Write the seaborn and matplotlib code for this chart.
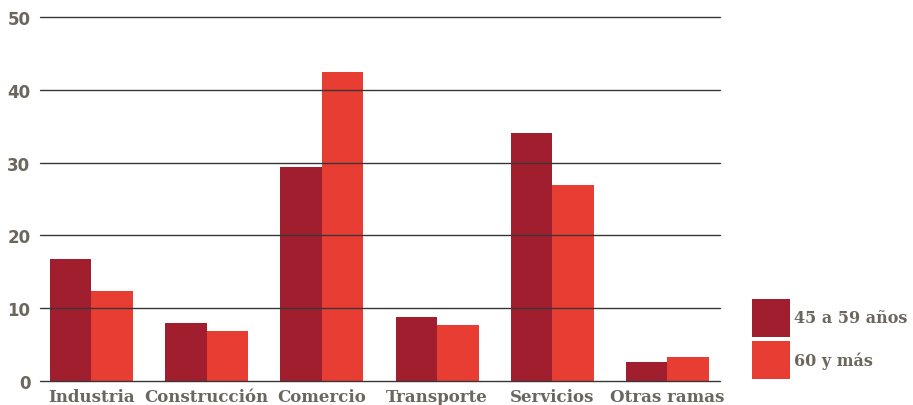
import matplotlib
matplotlib.use('Agg')
import matplotlib.pyplot as plt
import seaborn as sns
import pandas as pd

# data
categorias = ["Industria", "Construcción", "Comercio", "Transporte", "Servicios", "Otras ramas"]
edad_45_59 = [16.8, 8.0, 29.4, 8.8, 34.1, 2.6]
edad_60_mas = [12.4, 6.9, 42.4, 7.7, 26.9, 3.3]
series = ["45 a 59 años", "60 y más"]
yticks = [0, 10, 20, 30, 40, 50]

df = pd.DataFrame({
    "rama": categorias * 2,
    "grupo": [series[0]] * len(categorias) + [series[1]] * len(categorias),
    "valor": edad_45_59 + edad_60_mas,
})

text_color = "#6b675e"
colores = {series[0]: "#a01e2d", series[1]: "#e83d33"}

sns.set_style("white")
fig = plt.figure(figsize=(9.13, 4.06), dpi=100)
ax = fig.add_axes([40 / 913, 1 - 382 / 406, 680 / 913, 364 / 406])

sns.barplot(data=df, x="rama", y="valor", hue="grupo", palette=colores,
            width=0.72, saturation=1, linewidth=0, ax=ax, zorder=1)

# gridlines drawn over the bars
for t in yticks:
    ax.axhline(t, color="#3a3636", lw=1.0, zorder=3, clip_on=False)

ax.set_xlim(-0.447, 5.456)
ax.set_ylim(0, 50)
ax.set_yticks(yticks)
ax.set_xlabel("")
ax.set_ylabel("")
for s in ax.spines.values():
    s.set_visible(False)
ax.tick_params(axis="both", length=0, colors=text_color)
ax.tick_params(axis="y", pad=7)
ax.tick_params(axis="x", pad=5)
for lab in ax.get_yticklabels():
    lab.set_fontfamily("DejaVu Sans")
    lab.set_fontweight("bold")
    lab.set_fontsize(12)
for lab in ax.get_xticklabels():
    lab.set_fontfamily("DejaVu Serif")
    lab.set_fontweight("bold")
    lab.set_fontsize(12)

leg = ax.legend(loc="upper left", bbox_to_anchor=(752 / 913, 1 - 300 / 406),
                bbox_transform=fig.transFigure, frameon=False, borderpad=0,
                borderaxespad=0, handlelength=2.35, handleheight=3.25,
                handletextpad=0.3, labelspacing=0.3,
                prop={"family": "DejaVu Serif", "weight": "bold", "size": 11.5},
                labelcolor=text_color)
for h in leg.legend_handles:
    h.set_linewidth(0)

plt.savefig("out.png", dpi=100)
